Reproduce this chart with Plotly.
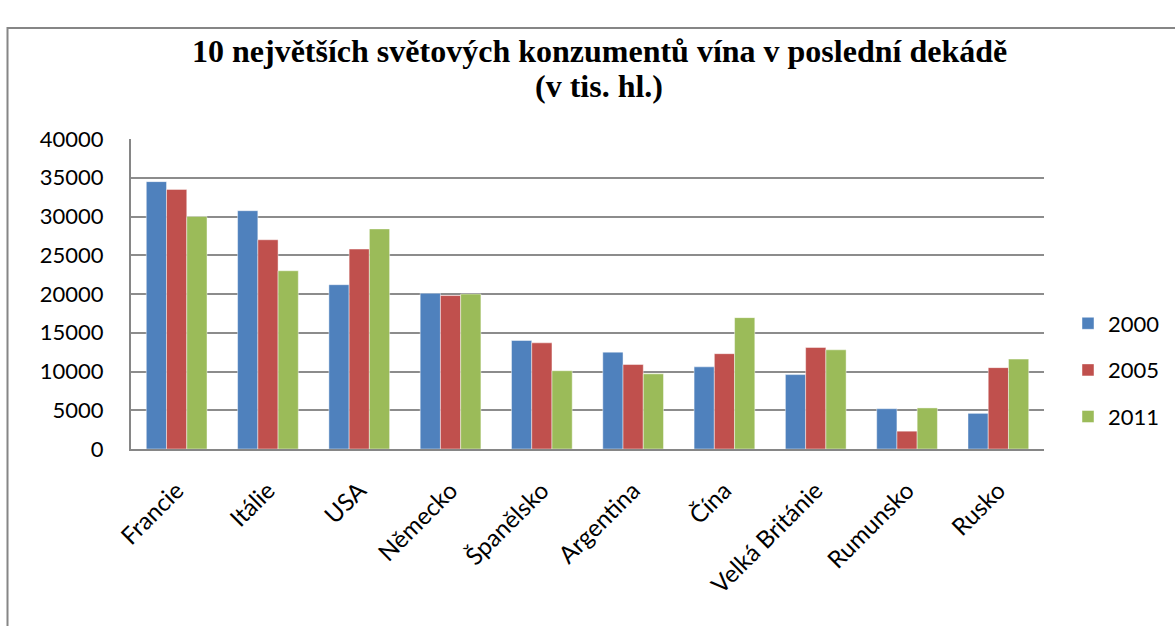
import plotly.graph_objects as go

categories = ["Francie", "Itálie", "USA", "Německo", "Španělsko", "Argentina",
              "Čína", "Velká Británie", "Rumunsko", "Rusko"]
years = ["2000", "2005", "2011"]
v2000 = [34500, 30750, 21200, 20100, 14000, 12500, 10600, 9600, 5200, 4600]
v2005 = [33500, 27000, 25800, 19800, 13700, 10900, 12300, 13100, 2300, 10500]
v2011 = [30000, 23000, 28400, 20000, 10100, 9700, 16950, 12800, 5300, 11600]
colors = ["#4F81BD", "#C0504D", "#9BBB59"]
title_lines = ["10 největších světových konzumentů vína v poslední dekádě", "(v tis. hl.)"]

W, H = 1175, 626
L, R, T, B = 131, 1044, 139, 449

fig = go.Figure()
for i, (name, vals) in enumerate(zip(years, [v2000, v2005, v2011])):
    fig.add_trace(go.Bar(
        x=categories, y=vals, name=name, legendgroup=name,
        marker=dict(color=colors[i], line=dict(color="rgba(255,255,255,0.45)", width=1)),
    ))

pw, ph = R - L, B - T
def px(x):
    return (x - L) / pw
def py(y):
    return (B - y) / ph

title_font = dict(family="Liberation Serif, Times New Roman, serif", size=32, color="black", weight="bold")
annotations = [
    dict(text=title_lines[0], x=px(599), y=py(63), xref="paper", yref="paper",
         xanchor="center", yanchor="bottom", yshift=-8, showarrow=False, font=title_font),
    dict(text=title_lines[1], x=px(599), y=py(98), xref="paper", yref="paper",
         xanchor="center", yanchor="bottom", yshift=-8, showarrow=False, font=title_font),
]

fig.update_layout(
    width=W, height=H,
    margin=dict(l=L, r=W - R, t=T, b=H - B, autoexpand=False),
    paper_bgcolor="white", plot_bgcolor="white",
    barmode="group", bargap=0.335, bargroupgap=0,
    font=dict(family="Lato, Carlito, sans-serif", size=22, color="black"),
    annotations=annotations,
    showlegend=True,
    legend=dict(
        x=px(1068), y=py(370), xanchor="left", yanchor="middle",
        font=dict(size=22), tracegroupgap=15, traceorder="grouped",
        bgcolor="rgba(0,0,0,0)",
    ),
    xaxis=dict(
        tickangle=-45, showgrid=False, showline=True, linecolor="#868686", linewidth=2,
        ticks="", tickfont=dict(size=24), ticklabelstandoff=16,
    ),
    yaxis=dict(
        range=[0, 40000], dtick=5000, tickformat="d",
        showgrid=True, gridcolor="#8C8C8C", gridwidth=2,
        showline=True, linecolor="#868686", linewidth=2,
        ticks="", ticklabelstandoff=21, tickfont=dict(size=22),
        zeroline=False,
    ),
    shapes=[dict(
        type="rect", xref="paper", yref="paper",
        x0=px(7.5), x1=px(1190), y0=py(640), y1=py(28),
        line=dict(color="#868686", width=2), fillcolor="rgba(0,0,0,0)", layer="below",
    )],
)

fig.write_html("out.html", config={"displayModeBar": False},
               post_script="document.body.style.margin='0';document.body.style.padding='0';")
